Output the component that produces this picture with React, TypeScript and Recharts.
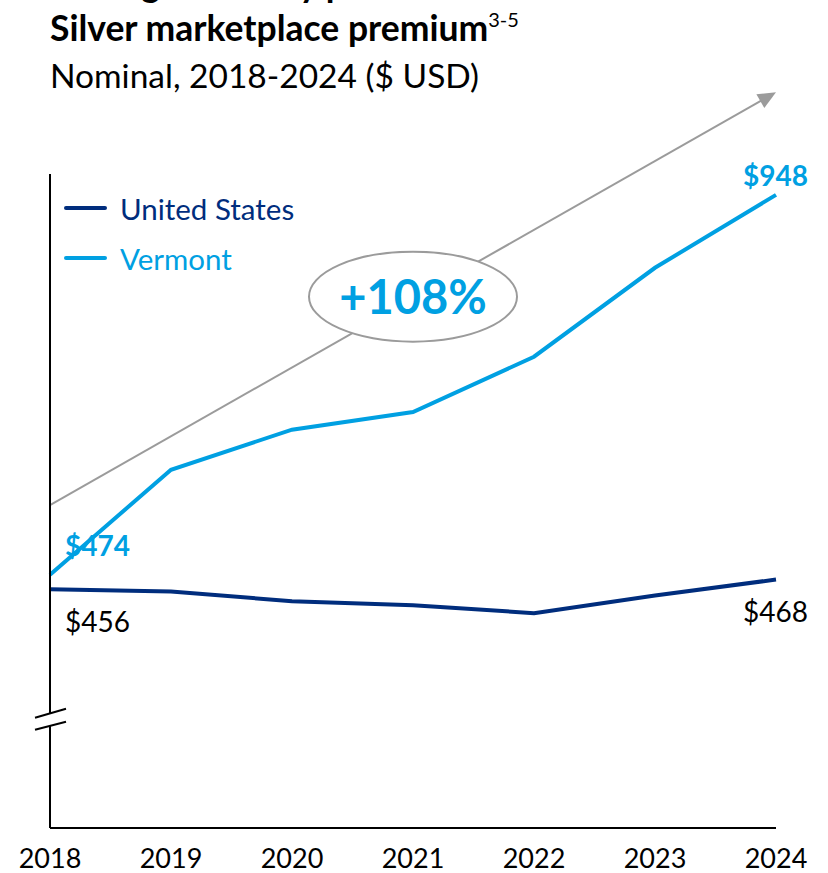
import React from 'react';
import { LineChart, Line, XAxis, YAxis, Legend, ReferenceLine, ReferenceDot } from 'recharts';

const years = ['2018', '2019', '2020', '2021', '2022', '2023', '2024'];
const unitedStates = [456, 453, 441, 436, 426, 448, 468];
const vermont = [474, 605, 655, 677, 746, 857, 948];
const yDomain = [158, 974];
const trendStart = 561;
const trendEnd = 1076;
const growthLabel = '+108%';
const growthYear = '2021';
const growthValue = 821;
const breakValue = 293;
const seriesNames = ['United States', 'Vermont'];

const NAVY = '#002d7d';
const BLUE = '#00a0e2';
const GRAY = '#9b9b9b';
const FONT = 'Lato, "Open Sans", sans-serif';

const data = years.map((year, i) => ({ year, us: unitedStates[i], vt: vermont[i] }));

const last = years.length - 1;

const usLabel = (p: any) => {
  const { x, y, index, value } = p;
  if (index === 0)
    return (
      <text x={x + 15} y={y + 43} fontSize={28} fontFamily={FONT} fill="#000">${value}</text>
    );
  if (index === last)
    return (
      <text x={x + 32} y={y + 42} textAnchor="end" fontSize={28} fontFamily={FONT} fill="#000">${value}</text>
    );
  return null;
};

const vtLabel = (p: any) => {
  const { x, y, index, value } = p;
  if (index === 0)
    return (
      <text x={x + 15} y={y - 19} fontSize={28} fontWeight={700} fontFamily={FONT} fill={BLUE}>${value}</text>
    );
  if (index === last)
    return (
      <text x={x + 32} y={y - 9} textAnchor="end" fontSize={28} fontWeight={700} fontFamily={FONT} fill={BLUE}>${value}</text>
    );
  return null;
};

const ArrowShape = (p: any) => {
  const { x1, y1, x2, y2 } = p;
  const dx = x2 - x1;
  const dy = y2 - y1;
  const len = Math.sqrt(dx * dx + dy * dy);
  const ux = dx / len;
  const uy = dy / len;
  const hl = 18;
  const hw = 8;
  const bx = x2 - ux * hl;
  const by = y2 - uy * hl;
  return (
    <g>
      <line x1={x1} y1={y1} x2={bx + ux * 2} y2={by + uy * 2} stroke={GRAY} strokeWidth={2} />
      <polygon
        points={`${x2},${y2} ${bx - uy * hw},${by + ux * hw} ${bx + uy * hw},${by - ux * hw}`}
        fill={GRAY}
      />
    </g>
  );
};

const GrowthBubble = (p: any) => {
  const { cx, cy } = p;
  return (
    <g>
      <ellipse cx={cx} cy={cy} rx={104} ry={45} fill="#fff" stroke={GRAY} strokeWidth={2} />
      <text x={cx} y={cy + 17} textAnchor="middle" fontSize={47} fontWeight={700} fontFamily={FONT} fill={BLUE}>
        {growthLabel}
      </text>
    </g>
  );
};

const AxisBreak = (p: any) => {
  const { cx, cy } = p;
  return (
    <g>
      <polygon
        points={`${cx - 15},${cy - 2} ${cx + 16},${cy - 11} ${cx + 16},${cy + 2} ${cx - 15},${cy + 10}`}
        fill="#fff"
      />
      <line x1={cx - 15} y1={cy - 2} x2={cx + 16} y2={cy - 11} stroke="#000" strokeWidth={2} />
      <line x1={cx - 15} y1={cy + 10} x2={cx + 16} y2={cy + 2} stroke="#000" strokeWidth={2} />
    </g>
  );
};

const XTick = (p: any) => {
  const { x, y, payload } = p;
  return (
    <text x={x} y={y + 38} textAnchor="middle" fontSize={27} fontFamily={FONT} fill="#000">
      {payload.value}
    </text>
  );
};

const LegendContent = () => {
  const colors = [NAVY, BLUE];
  return (
    <div style={{ fontFamily: FONT }}>
      {seriesNames.map((n, i) => (
        <div key={n} style={{ display: 'flex', alignItems: 'center', height: 50 }}>
          <div style={{ width: 43, height: 4, background: colors[i], borderRadius: 2, marginRight: 13 }} />
          <span style={{ fontSize: 29.5, color: colors[i] }}>{n}</span>
        </div>
      ))}
    </div>
  );
};

export default function App() {
  return (
    <div style={{ position: 'absolute', left: 0, top: 0, width: 828, height: 873, background: '#fff' }}>
      <svg width={828} height={110} style={{ position: 'absolute', left: 0, top: 0 }}>
        <text x={50} y={-3} fontSize={35.5} fontWeight={700} fontFamily={FONT} fill="#000">
          Average monthly premium
        </text>
        <text x={50} y={41} fontSize={35.5} fontWeight={700} fontFamily={FONT} fill="#000">
          Silver marketplace premium
          <tspan fontSize={20} fontWeight={400} dy={-14}>3-5</tspan>
        </text>
        <text x={50} y={88} fontSize={33.5} fontFamily={FONT} fill="#000">
          Nominal, 2018-2024 ($ USD)
        </text>
      </svg>
      <LineChart
        width={828}
        height={873}
        data={data}
        margin={{ top: 174, right: 52, left: 0, bottom: 0 }}
      >
        <XAxis
          dataKey="year"
          interval={0}
          height={45}
          axisLine={{ stroke: '#000', strokeWidth: 2 }}
          tickLine={false}
          tickSize={0}
          tick={<XTick />}
        />
        <YAxis
          width={50}
          domain={yDomain}
          allowDataOverflow
          axisLine={{ stroke: '#000', strokeWidth: 2 }}
          tickLine={false}
          tick={false}
        />
        <Legend
          layout="vertical"
          align="center"
          verticalAlign="middle"
          content={<LegendContent />}
          wrapperStyle={{ position: 'absolute', left: 64, top: 183, width: 280 }}
        />
        <ReferenceLine
          segment={[{ x: '2018', y: trendStart }, { x: '2024', y: trendEnd }]}
          ifOverflow="visible"
          shape={ArrowShape}
        />
        <ReferenceDot x={growthYear} y={growthValue} ifOverflow="visible" shape={GrowthBubble} />
        <ReferenceDot x="2018" y={breakValue} ifOverflow="visible" shape={AxisBreak} />
        <Line
          type="linear"
          dataKey="us"
          name={seriesNames[0]}
          stroke={NAVY}
          strokeWidth={4}
          dot={false}
          isAnimationActive={false}
          label={usLabel}
        />
        <Line
          type="linear"
          dataKey="vt"
          name={seriesNames[1]}
          stroke={BLUE}
          strokeWidth={4}
          dot={false}
          isAnimationActive={false}
          label={vtLabel}
        />
      </LineChart>
    </div>
  );
}
